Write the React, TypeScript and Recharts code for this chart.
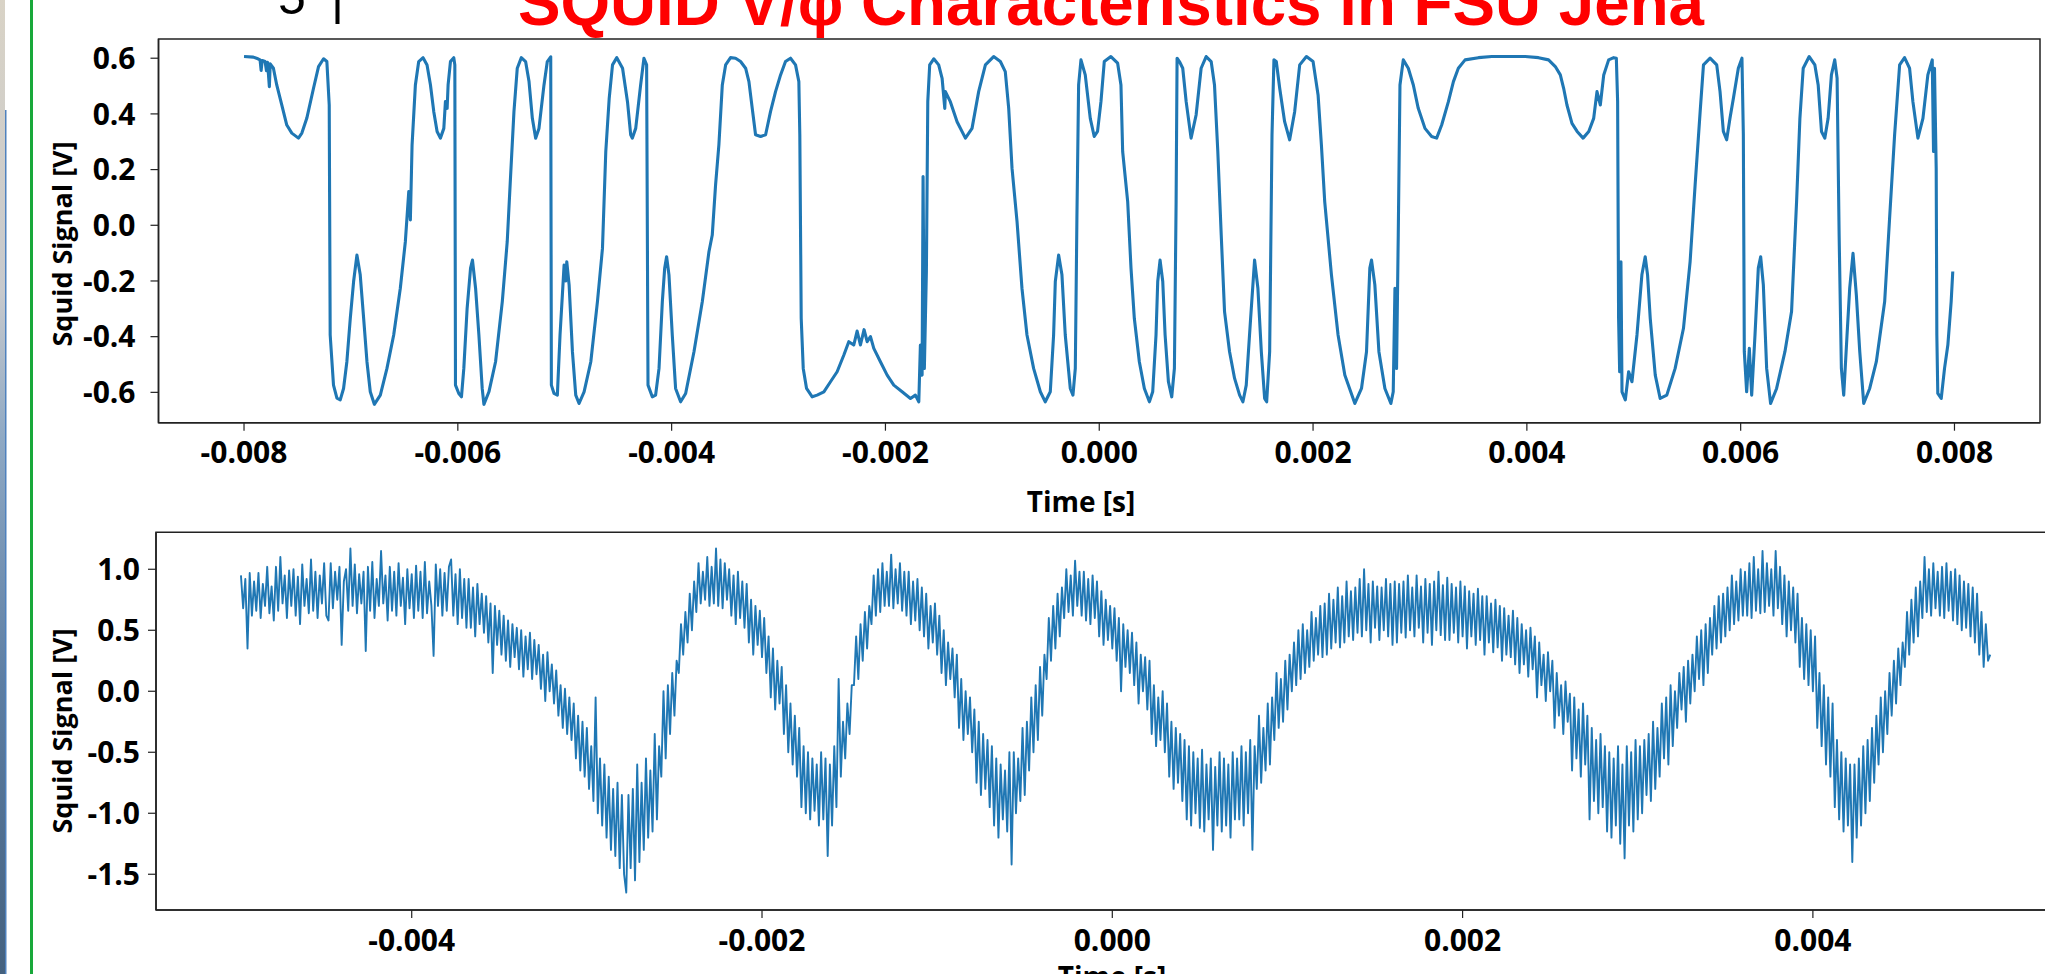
import React from 'react';
import { LineChart, Line, XAxis, YAxis, ReferenceArea } from 'recharts';

// ---------- Top chart: SQUID V/phi trace (time in ms, signal in V) ----------
const topTimeMs = [
  -8.000, -7.913, -7.870, -7.850, -7.840, -7.830, -7.803, -7.790, -7.780, -7.763, -7.755, -7.725, -7.694, -7.647, -7.600,
  -7.553, -7.491, -7.459, -7.413, -7.350, -7.303, -7.256, -7.225, -7.203, -7.194, -7.163, -7.131, -7.100, -7.069, -7.038,
  -7.006, -6.975, -6.944, -6.913, -6.881, -6.850, -6.819, -6.781, -6.725, -6.663, -6.600, -6.538, -6.491, -6.459, -6.444,
  -6.428, -6.397, -6.366, -6.325, -6.288, -6.256, -6.225, -6.194, -6.163, -6.131, -6.116, -6.100, -6.091, -6.069, -6.038,
  -6.028, -6.022, -5.991, -5.966, -5.944, -5.913, -5.881, -5.863, -5.834, -5.803, -5.772, -5.756, -5.709, -5.647, -5.584,
  -5.538, -5.506, -5.475, -5.444, -5.406, -5.366, -5.334, -5.303, -5.272, -5.241, -5.194, -5.163, -5.131, -5.125, -5.100,
  -5.069, -5.044, -5.022, -5.006, -4.990, -4.981, -4.959, -4.928, -4.897, -4.866, -4.819, -4.756, -4.694, -4.647, -4.616,
  -4.584, -4.553, -4.513, -4.459, -4.413, -4.383, -4.368, -4.336, -4.290, -4.259, -4.234, -4.221, -4.181, -4.150, -4.118,
  -4.087, -4.065, -4.047, -4.025, -3.994, -3.963, -3.916, -3.869, -3.791, -3.713, -3.651, -3.620, -3.589, -3.558, -3.526,
  -3.495, -3.449, -3.402, -3.355, -3.308, -3.277, -3.246, -3.215, -3.168, -3.121, -3.075, -3.028, -2.981, -2.935, -2.888,
  -2.841, -2.810, -2.801, -2.788, -2.769, -2.738, -2.685, -2.639, -2.576, -2.514, -2.452, -2.389, -2.343, -2.296, -2.265,
  -2.234, -2.200, -2.171, -2.140, -2.109, -2.047, -1.984, -1.922, -1.844, -1.766, -1.720, -1.688, -1.673, -1.657, -1.648,
  -1.636, -1.617, -1.604, -1.586, -1.548, -1.502, -1.470, -1.445, -1.439, -1.393, -1.330, -1.252, -1.190, -1.128, -1.065,
  -0.988, -0.925, -0.879, -0.847, -0.816, -0.769, -0.723, -0.676, -0.614, -0.551, -0.505, -0.458, -0.427, -0.411, -0.380,
  -0.349, -0.318, -0.271, -0.246, -0.224, -0.209, -0.193, -0.171, -0.131, -0.084, -0.047, -0.016, 0.016, 0.047, 0.109,
  0.172, 0.203, 0.219, 0.266, 0.297, 0.328, 0.375, 0.422, 0.469, 0.500, 0.531, 0.547, 0.569, 0.594, 0.616,
  0.647, 0.678, 0.703, 0.719, 0.728, 0.750, 0.781, 0.813, 0.859, 0.906, 0.953, 1.000, 1.047, 1.078, 1.109,
  1.141, 1.172, 1.219, 1.266, 1.313, 1.344, 1.375, 1.416, 1.453, 1.484, 1.516, 1.547, 1.566, 1.594, 1.616,
  1.634, 1.656, 1.688, 1.734, 1.781, 1.828, 1.875, 1.938, 2.000, 2.047, 2.078, 2.109, 2.172, 2.234, 2.297,
  2.391, 2.453, 2.500, 2.531, 2.547, 2.578, 2.616, 2.672, 2.728, 2.750, 2.766, 2.781, 2.797, 2.813, 2.844,
  2.891, 2.938, 2.984, 3.047, 3.109, 3.156, 3.203, 3.266, 3.313, 3.359, 3.422, 3.547, 3.672, 3.828, 3.984,
  4.109, 4.203, 4.266, 4.313, 4.344, 4.375, 4.422, 4.470, 4.526, 4.579, 4.625, 4.656, 4.687, 4.719, 4.765,
  4.812, 4.837, 4.849, 4.858, 4.868, 4.880, 4.890, 4.921, 4.952, 4.983, 5.030, 5.076, 5.107, 5.129, 5.154,
  5.201, 5.247, 5.309, 5.387, 5.465, 5.527, 5.574, 5.621, 5.652, 5.714, 5.776, 5.807, 5.838, 5.869, 5.900,
  5.932, 5.978, 6.012, 6.025, 6.034, 6.056, 6.081, 6.103, 6.134, 6.165, 6.187, 6.212, 6.243, 6.280, 6.336,
  6.414, 6.476, 6.523, 6.554, 6.585, 6.641, 6.694, 6.725, 6.756, 6.787, 6.818, 6.849, 6.880, 6.902, 6.921,
  6.942, 6.964, 6.995, 7.020, 7.051, 7.082, 7.114, 7.151, 7.207, 7.269, 7.347, 7.393, 7.440, 7.487, 7.533,
  7.580, 7.611, 7.658, 7.705, 7.751, 7.792, 7.804, 7.813, 7.829, 7.835, 7.844, 7.876, 7.907, 7.938, 7.969,
  7.984,
];

const topSignal = [
  0.606, 0.604, 0.598, 0.594, 0.556, 0.592, 0.588, 0.555, 0.585, 0.498, 0.580, 0.564, 0.504, 0.432, 0.360,
  0.331, 0.313, 0.331, 0.384, 0.492, 0.570, 0.598, 0.588, 0.432, -0.394, -0.574, -0.621, -0.627, -0.586, -0.490,
  -0.334, -0.202, -0.107, -0.178, -0.334, -0.490, -0.598, -0.643, -0.610, -0.514, -0.394, -0.226, -0.059, 0.121, 0.019,
  0.289, 0.504, 0.588, 0.602, 0.576, 0.504, 0.408, 0.337, 0.313, 0.348, 0.444, 0.420, 0.504, 0.588, 0.602,
  0.576, -0.574, -0.604, -0.616, -0.514, -0.298, -0.154, -0.125, -0.226, -0.394, -0.586, -0.643, -0.598, -0.490, -0.274,
  -0.059, 0.181, 0.408, 0.564, 0.602, 0.588, 0.516, 0.384, 0.313, 0.348, 0.504, 0.588, 0.605, -0.574, -0.604,
  -0.610, -0.394, -0.250, -0.143, -0.200, -0.131, -0.214, -0.454, -0.610, -0.640, -0.598, -0.490, -0.274, -0.083, 0.265,
  0.456, 0.576, 0.602, 0.564, 0.444, 0.325, 0.313, 0.348, 0.504, 0.600, 0.576, -0.574, -0.616, -0.610, -0.514,
  -0.274, -0.154, -0.113, -0.178, -0.394, -0.586, -0.634, -0.604, -0.454, -0.274, -0.095, -0.035, 0.145, 0.289, 0.504,
  0.576, 0.602, 0.600, 0.588, 0.564, 0.516, 0.420, 0.325, 0.319, 0.325, 0.408, 0.480, 0.540, 0.588, 0.600,
  0.576, 0.516, 0.325, -0.334, -0.514, -0.586, -0.616, -0.610, -0.598, -0.562, -0.526, -0.466, -0.418, -0.430, -0.380,
  -0.430, -0.375, -0.418, -0.400, -0.442, -0.490, -0.538, -0.574, -0.598, -0.622, -0.610, -0.634, -0.430, -0.538, 0.175,
  -0.514, -0.166, 0.444, 0.576, 0.598, 0.576, 0.528, 0.420, 0.480, 0.444, 0.372, 0.313, 0.348, 0.480, 0.576,
  0.606, 0.588, 0.552, 0.420, 0.205, 0.013, -0.226, -0.394, -0.514, -0.598, -0.634, -0.598, -0.394, -0.202, -0.107,
  -0.178, -0.394, -0.586, -0.610, -0.514, 0.025, 0.504, 0.594, 0.540, 0.384, 0.319, 0.337, 0.444, 0.588, 0.606,
  0.582, 0.504, 0.265, 0.085, -0.154, -0.334, -0.490, -0.586, -0.634, -0.598, -0.394, -0.202, -0.125, -0.202, -0.394,
  -0.562, -0.616, -0.514, 0.085, 0.600, 0.588, 0.564, 0.444, 0.313, 0.396, 0.564, 0.606, 0.588, 0.504, 0.265,
  -0.035, -0.310, -0.454, -0.550, -0.610, -0.634, -0.574, -0.334, -0.125, -0.226, -0.454, -0.622, -0.634, -0.454, 0.325,
  0.594, 0.588, 0.492, 0.372, 0.307, 0.408, 0.576, 0.606, 0.588, 0.468, 0.289, 0.085, -0.178, -0.394, -0.538,
  -0.640, -0.586, -0.454, -0.154, -0.125, -0.214, -0.454, -0.586, -0.640, -0.598, -0.226, -0.514, -0.035, 0.504, 0.594,
  0.564, 0.504, 0.420, 0.348, 0.319, 0.313, 0.360, 0.444, 0.516, 0.564, 0.594, 0.602, 0.606, 0.606, 0.606,
  0.602, 0.594, 0.570, 0.540, 0.492, 0.432, 0.366, 0.337, 0.313, 0.337, 0.384, 0.480, 0.432, 0.540, 0.594,
  0.602, 0.600, 0.444, -0.334, -0.526, -0.131, -0.598, -0.627, -0.526, -0.562, -0.394, -0.178, -0.113, -0.178, -0.334,
  -0.538, -0.622, -0.610, -0.514, -0.370, -0.131, 0.145, 0.408, 0.576, 0.600, 0.576, 0.480, 0.337, 0.307, 0.384,
  0.456, 0.564, 0.600, 0.325, -0.454, -0.598, -0.442, -0.610, -0.394, -0.154, -0.113, -0.214, -0.514, -0.640, -0.586,
  -0.454, -0.310, 0.085, 0.384, 0.564, 0.606, 0.576, 0.504, 0.337, 0.313, 0.384, 0.540, 0.594, 0.528, -0.035,
  -0.514, -0.610, -0.394, -0.226, -0.101, -0.250, -0.454, -0.640, -0.586, -0.490, -0.274, 0.025, 0.325, 0.576, 0.602,
  0.564, 0.444, 0.313, 0.384, 0.540, 0.594, 0.265, 0.564, 0.205, -0.394, -0.604, -0.622, -0.514, -0.430, -0.274,
  -0.166,
];

const topXTicks = [-8, -6, -4, -2, 0, 2, 4, 6, 8];
const topYTicks = [-0.6, -0.4, -0.2, 0, 0.2, 0.4, 0.6];

// ---------- Bottom chart: noisy SQUID signal, sampled every 0.0125 ms ----------
const bottomStartMs = -4.975;
const bottomStepMs = 0.0125;
const bottomSignal = [
  0.95, 0.68, 0.92, 0.35, 0.97, 0.62, 0.90, 0.66, 0.97, 0.60, 0.88, 0.70, 1.02, 0.64, 0.86, 0.58,
  1.02, 0.66, 1.10, 0.72, 0.95, 0.60, 0.99, 0.70, 1.00, 0.62, 0.94, 0.55, 1.04, 0.70, 0.92, 0.64,
  1.08, 0.66, 0.98, 0.60, 0.95, 0.72, 1.05, 0.62, 0.58, 1.05, 0.68, 0.98, 0.75, 1.02, 0.38, 0.90,
  1.00, 0.66, 1.17, 0.70, 1.04, 0.64, 0.96, 0.72, 0.98, 0.33, 1.02, 0.66, 1.06, 0.60, 0.92, 0.70,
  1.15, 0.72, 0.95, 0.58, 1.02, 0.66, 0.98, 0.62, 1.05, 0.70, 0.93, 0.55, 1.00, 0.68, 0.96, 0.60,
  1.03, 0.66, 0.98, 0.60, 1.06, 0.64, 0.90, 0.70, 0.29, 1.04, 0.70, 1.00, 0.62, 0.97, 0.66, 1.02,
  1.08, 0.62, 0.96, 0.55, 1.00, 0.60, 0.92, 0.52, 0.92, 0.52, 0.85, 0.45, 0.88, 0.55, 0.80, 0.48,
  0.78, 0.40, 0.72, 0.15, 0.70, 0.38, 0.66, 0.30, 0.62, 0.25, 0.58, 0.20, 0.55, 0.28, 0.52, 0.18,
  0.50, 0.12, 0.45, 0.18, 0.48, 0.10, 0.42, 0.14, 0.38, 0.02, 0.30, -0.08, 0.32, 0.00, 0.22, -0.10,
  0.17, -0.20, 0.05, -0.30, 0.02, -0.35, -0.05, -0.40, -0.10, -0.55, -0.20, -0.65, -0.25, -0.70, -0.30, -0.80,
  -0.45, -0.90, -0.05, -1.00, -0.55, -1.10, -0.60, -1.20, -0.70, -1.30, -0.80, -1.35, -0.75, -1.45, -0.85, -1.50,
  -1.65, -0.85, -1.45, -0.80, -1.55, -0.60, -1.40, -0.75, -1.30, -0.55, -1.20, -0.65, -1.15, -0.35, -1.05, -0.45,
  -0.70, 0.00, -0.55, 0.05, -0.35, 0.15, -0.20, 0.25, 0.15, 0.55, 0.30, 0.65, 0.40, 0.80, 0.50, 0.90,
  0.65, 1.05, 0.72, 0.98, 0.75, 1.10, 0.70, 1.02, 0.72, 1.17, 0.70, 1.08, 0.68, 1.05, 0.75, 1.00,
  0.62, 0.95, 0.55, 0.98, 0.60, 0.90, 0.52, 0.88, 0.40, 0.75, 0.30, 0.70, 0.38, 0.66, 0.28, 0.60,
  0.15, 0.45, -0.05, 0.35, -0.15, 0.25, -0.10, 0.20, -0.35, 0.05, -0.50, -0.10, -0.60, -0.20, -0.70, -0.30,
  -0.95, -0.45, -1.00, -0.50, -1.05, -0.55, -0.98, -0.60, -1.10, -0.50, -1.05, -0.55, -1.35, -0.60, -1.10, -0.45,
  -0.95, 0.10, -0.70, -0.25, -0.55, -0.10, -0.35, 0.05, 0.05, 0.45, 0.10, 0.55, 0.25, 0.65, 0.35, 0.70,
  0.55, 0.95, 0.62, 1.00, 0.65, 1.05, 0.70, 0.98, 0.70, 1.12, 0.68, 1.00, 0.72, 1.05, 0.66, 0.98,
  0.62, 0.98, 0.55, 0.90, 0.58, 0.92, 0.50, 0.85, 0.45, 0.80, 0.35, 0.70, 0.40, 0.72, 0.30, 0.62,
  0.15, 0.50, 0.05, 0.40, 0.10, 0.35, -0.05, 0.30, -0.30, 0.10, -0.40, 0.00, -0.35, -0.05, -0.50, -0.15,
  -0.75, -0.25, -0.85, -0.35, -0.80, -0.40, -0.95, -0.45, -1.10, -0.55, -1.20, -0.60, -1.05, -0.65, -1.15, -0.50,
  -1.42, -0.50, -1.00, -0.55, -0.90, -0.30, -0.85, -0.25, -0.65, -0.05, -0.50, 0.05, -0.40, 0.20, -0.20, 0.30,
  0.10, 0.60, 0.25, 0.70, 0.35, 0.80, 0.45, 0.85, 0.60, 1.00, 0.65, 0.95, 0.62, 1.07, 0.70, 0.98,
  0.62, 0.98, 0.58, 0.92, 0.55, 0.95, 0.60, 0.90, 0.45, 0.82, 0.38, 0.75, 0.42, 0.70, 0.35, 0.68,
  0.25, 0.60, 0.00, 0.55, 0.20, 0.50, 0.15, 0.48, 0.05, 0.40, -0.10, 0.30, 0.00, 0.28, -0.15, 0.25,
  -0.35, 0.05, -0.45, -0.05, -0.40, 0.00, -0.50, -0.10, -0.70, -0.25, -0.80, -0.30, -0.75, -0.35, -0.90, -0.40,
  -1.05, -0.45, -1.10, -0.50, -1.00, -0.55, -1.12, -0.48, -1.15, -0.60, -1.05, -0.55, -1.30, -0.62, -1.10, -0.50,
  -1.15, -0.55, -1.10, -0.60, -1.20, -0.50, -1.05, -0.55, -1.05, -0.45, -1.10, -0.50, -1.00, -0.40, -1.30, -0.45,
  -0.80, -0.20, -0.75, -0.30, -0.65, -0.10, -0.60, -0.05, -0.40, 0.15, -0.30, 0.10, -0.25, 0.25, -0.15, 0.30,
  0.00, 0.40, 0.05, 0.50, 0.10, 0.55, 0.15, 0.50, 0.20, 0.65, 0.25, 0.60, 0.30, 0.70, 0.28, 0.72,
  0.30, 0.80, 0.35, 0.75, 0.40, 0.85, 0.36, 0.78, 0.40, 0.90, 0.45, 0.82, 0.42, 0.85, 0.48, 0.92,
  0.45, 1.00, 0.50, 0.88, 0.40, 0.90, 0.52, 0.86, 0.42, 0.85, 0.50, 0.92, 0.45, 0.88, 0.38, 0.90,
  0.40, 0.88, 0.48, 0.90, 0.44, 0.95, 0.50, 0.85, 0.45, 0.95, 0.52, 0.86, 0.40, 0.92, 0.48, 0.88,
  0.38, 0.90, 0.50, 0.98, 0.46, 0.87, 0.42, 0.93, 0.42, 0.88, 0.48, 0.85, 0.40, 0.90, 0.45, 0.86,
  0.35, 0.82, 0.45, 0.80, 0.38, 0.84, 0.42, 0.78, 0.30, 0.78, 0.40, 0.72, 0.32, 0.75, 0.36, 0.70,
  0.25, 0.68, 0.30, 0.62, 0.28, 0.66, 0.22, 0.60, 0.15, 0.55, 0.22, 0.50, 0.12, 0.52, 0.18, 0.45,
  -0.05, 0.40, 0.05, 0.30, -0.08, 0.32, 0.00, 0.25, -0.30, 0.15, -0.20, 0.05, -0.35, 0.08, -0.25, -0.02,
  -0.65, -0.05, -0.55, -0.15, -0.70, -0.10, -0.60, -0.20, -1.05, -0.30, -0.90, -0.40, -1.00, -0.35, -0.95, -0.45,
  -1.15, -0.50, -1.20, -0.55, -1.10, -0.45, -1.25, -0.60, -1.37, -0.45, -1.10, -0.50, -1.15, -0.40, -1.05, -0.45,
  -1.00, -0.40, -0.85, -0.35, -0.90, -0.25, -0.80, -0.30, -0.70, -0.10, -0.55, -0.05, -0.60, 0.05, -0.45, 0.00,
  -0.30, 0.15, -0.15, 0.20, -0.25, 0.25, -0.10, 0.30, 0.00, 0.45, 0.10, 0.50, 0.05, 0.55, 0.15, 0.60,
  0.30, 0.70, 0.35, 0.78, 0.40, 0.80, 0.45, 0.85, 0.50, 0.95, 0.55, 0.90, 0.58, 1.00, 0.62, 0.98,
  0.62, 1.05, 0.60, 1.10, 0.66, 1.00, 0.64, 1.15, 0.65, 1.05, 0.70, 1.00, 0.62, 1.15, 0.68, 1.02,
  0.55, 0.95, 0.45, 0.90, 0.50, 0.85, 0.40, 0.80, 0.20, 0.60, 0.10, 0.55, 0.05, 0.50, 0.00, 0.45,
  -0.30, 0.15, -0.45, 0.05, -0.60, -0.05, -0.70, -0.10, -0.95, -0.40, -1.05, -0.50, -1.15, -0.55, -1.10, -0.60,
  -1.40, -0.60, -1.20, -0.55, -1.10, -0.45, -1.00, -0.40, -0.90, -0.30, -0.75, -0.20, -0.60, -0.05, -0.50, 0.00,
  -0.35, 0.15, -0.20, 0.25, -0.10, 0.35, 0.05, 0.40, 0.20, 0.65, 0.30, 0.75, 0.40, 0.85, 0.45, 0.90,
  0.60, 1.10, 0.65, 1.00, 0.62, 1.05, 0.68, 0.98, 0.62, 1.02, 0.60, 1.05, 0.66, 0.98, 0.58, 1.00,
  0.55, 0.95, 0.50, 0.90, 0.52, 0.88, 0.45, 0.85, 0.40, 0.80, 0.30, 0.65, 0.20, 0.55, 0.25, 0.30,
];

const bottomXTicks = [-4, -2, 0, 2, 4];
const bottomYTicks = [-1.5, -1, -0.5, 0, 0.5, 1];

const topData = topTimeMs.map((t, i) => ({ t, v: topSignal[i] }));
const bottomData = bottomSignal.map((v, i) => ({ t: bottomStartMs + i * bottomStepMs, v }));

const LINE = '#1f77b4';
const FONT = '"Open Sans", "DejaVu Sans", sans-serif';
const tickStyle = { fill: '#000', fontSize: 30, fontWeight: 700, fontFamily: FONT };
const fmtTime = (v: number) => (v / 1000).toFixed(3);
const fmt1 = (v: number) => v.toFixed(1);

const TOP_X: [number, number] = [-8.8, 8.8];
const TOP_Y: [number, number] = [-0.709, 0.669];
const BOT_X: [number, number] = [-5.46, 5.46];
const BOT_Y: [number, number] = [-1.793, 1.303];

export default function App() {
  return (
    <div style={{ position: 'fixed', left: 0, top: 0, width: 2045, height: 974, overflow: 'hidden', background: '#fff' }}>
      <div style={{ position: 'absolute', left: 0, top: 0 }}>
        <LineChart width={2045} height={540} data={topData} margin={{ top: 39, right: 5, left: 0, bottom: 37.3 }}>
          <XAxis
            type="number"
            dataKey="t"
            domain={TOP_X}
            ticks={topXTicks}
            interval={0}
            allowDataOverflow
            tickFormatter={fmtTime}
            tick={tickStyle}
            tickSize={8}
            tickMargin={11}
            height={80}
            axisLine={{ stroke: '#222', strokeWidth: 1.5 }}
            tickLine={{ stroke: '#222', strokeWidth: 1.2 }}
          />
          <YAxis
            type="number"
            domain={TOP_Y}
            ticks={topYTicks}
            interval={0}
            allowDataOverflow
            tickFormatter={fmt1}
            tick={tickStyle}
            tickSize={8}
            tickMargin={15}
            width={158.5}
            axisLine={{ stroke: '#222', strokeWidth: 1.5 }}
            tickLine={{ stroke: '#222', strokeWidth: 1.2 }}
          />
          <ReferenceArea x1={TOP_X[0]} x2={TOP_X[1]} y1={TOP_Y[0]} y2={TOP_Y[1]} fill="none" fillOpacity={0} stroke="#222" strokeWidth={1.5} ifOverflow="visible" />
          <Line type="linear" dataKey="v" stroke={LINE} strokeWidth={3.1} strokeLinejoin="round" dot={false} isAnimationActive={false} />
        </LineChart>
      </div>
      <div style={{ position: 'absolute', left: 0, top: 0 }}>
        <LineChart width={2100} height={1040} data={bottomData} margin={{ top: 532.3, right: 31.4, left: 0, bottom: 50 }}>
          <XAxis
            type="number"
            dataKey="t"
            domain={BOT_X}
            ticks={bottomXTicks}
            interval={0}
            allowDataOverflow
            tickFormatter={fmtTime}
            tick={tickStyle}
            tickSize={8}
            tickMargin={12}
            height={80}
            axisLine={{ stroke: '#222', strokeWidth: 1.5 }}
            tickLine={{ stroke: '#222', strokeWidth: 1.2 }}
          />
          <YAxis
            type="number"
            domain={BOT_Y}
            ticks={bottomYTicks}
            interval={0}
            allowDataOverflow
            tickFormatter={fmt1}
            tick={tickStyle}
            tickSize={8}
            tickMargin={8}
            width={156}
            axisLine={{ stroke: '#222', strokeWidth: 1.5 }}
            tickLine={{ stroke: '#222', strokeWidth: 1.2 }}
          />
          <ReferenceArea x1={BOT_X[0]} x2={BOT_X[1]} y1={BOT_Y[0]} y2={BOT_Y[1]} fill="none" fillOpacity={0} stroke="#222" strokeWidth={1.5} ifOverflow="visible" />
          <Line type="linear" dataKey="v" stroke={LINE} strokeWidth={1.9} strokeLinejoin="round" dot={false} isAnimationActive={false} />
        </LineChart>
      </div>
      <svg width={2045} height={974} style={{ position: 'absolute', left: 0, top: 0, pointerEvents: 'none' }}>
        <defs>
          <linearGradient id="strip" x1="0" y1="0" x2="0" y2="1">
            <stop offset="0" stopColor="#d9d3c6" />
            <stop offset="0.3" stopColor="#c7c9cc" />
            <stop offset="0.45" stopColor="#8fa9c4" />
            <stop offset="0.7" stopColor="#5d7ea3" />
            <stop offset="1" stopColor="#44617f" />
          </linearGradient>
        </defs>
        <rect x={0} y={0} width={5} height={974} fill="url(#strip)" />
        <rect x={5} y={110} width={1.5} height={864} fill="#4f81bd" />
        <rect x={30} y={0} width={3} height={974} fill="#18a83a" />
        <text x={278} y={14} fontFamily='"Liberation Sans", Arial, sans-serif' fontSize={50} fill="#000">5</text>
        <text x={331} y={14} fontFamily='"Liberation Sans", Arial, sans-serif' fontSize={50} fill="#000">|</text>
        <text x={518} y={25} fontFamily='"Liberation Sans", Arial, sans-serif' fontWeight={700} fontSize={64} fill="#ff0000" textLength={1186} lengthAdjust="spacingAndGlyphs">SQUID V/φ Characteristics in FSU Jena</text>
        <text x={1081} y={512} textAnchor="middle" fontFamily={FONT} fontWeight={700} fontSize={28} fill="#000">Time [s]</text>
        <text x={1112} y={987} textAnchor="middle" fontFamily={FONT} fontWeight={700} fontSize={28} fill="#000">Time [s]</text>
        <text x={61} y={244} transform="rotate(-90 61 244)" textAnchor="middle" dominantBaseline="central" fontFamily={FONT} fontWeight={700} fontSize={27} fill="#000">Squid Signal [V]</text>
        <text x={61} y={731} transform="rotate(-90 61 731)" textAnchor="middle" dominantBaseline="central" fontFamily={FONT} fontWeight={700} fontSize={27} fill="#000">Squid Signal [V]</text>
      </svg>
    </div>
  );
}
